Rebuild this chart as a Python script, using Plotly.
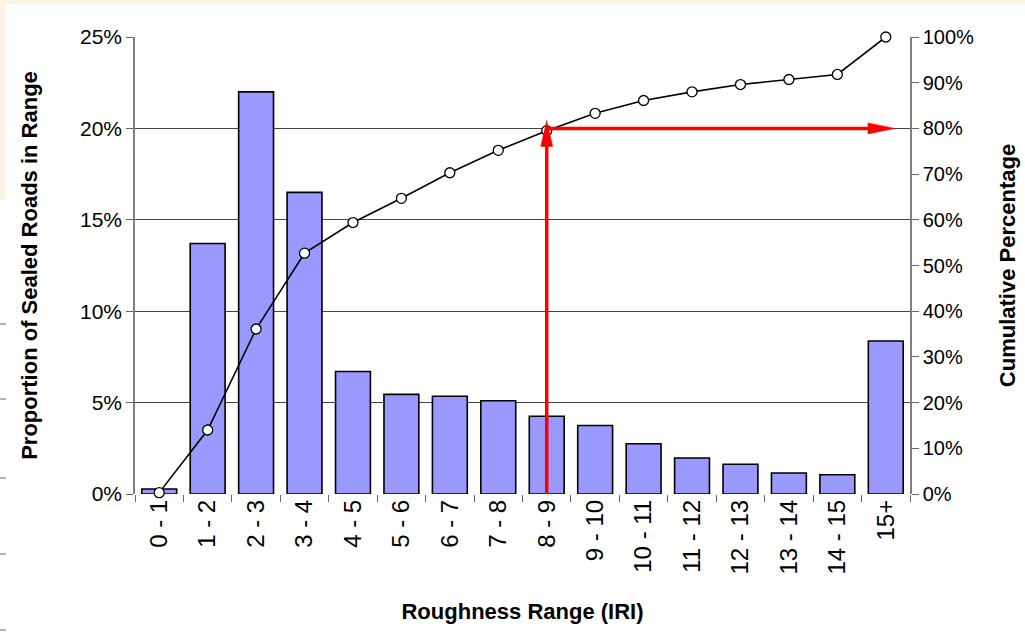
import plotly.graph_objects as go

categories = ["0 - 1", "1 - 2", "2 - 3", "3 - 4", "4 - 5", "5 - 6", "6 - 7", "7 - 8",
              "8 - 9", "9 - 10", "10 - 11", "11 - 12", "12 - 13", "13 - 14", "14 - 15", "15+"]
proportion = [0.27, 13.7, 22.0, 16.5, 6.7, 5.45, 5.35, 5.1, 4.25, 3.75, 2.75, 1.97, 1.63, 1.15, 1.05, 8.37]
cumulative = [0.3, 14.0, 36.1, 52.7, 59.4, 64.7, 70.3, 75.2, 79.5, 83.3, 86.1, 88.0, 89.6, 90.7, 91.8, 100.0]
left_ticks = [0, 5, 10, 15, 20, 25]
right_ticks = [0, 10, 20, 30, 40, 50, 60, 70, 80, 90, 100]
target_pct = 80
target_cat = "8 - 9"
arrow_end = 15.19  # category-index position where the horizontal arrow ends

font = "Liberation Sans, Arial, sans-serif"

fig = go.Figure()
fig.add_trace(go.Bar(
    x=categories, y=proportion, yaxis="y",
    marker=dict(color="#9999FF", line=dict(color="black", width=1.6)),
    showlegend=False,
))
fig.add_trace(go.Scatter(
    x=categories, y=cumulative, yaxis="y2", mode="lines+markers",
    line=dict(color="black", width=1.6),
    marker=dict(symbol="circle", size=10, color="white", line=dict(color="black", width=1.3)),
    cliponaxis=False, showlegend=False,
))

idx = categories.index(target_cat)
red = "#FF0000"
shapes = [
    dict(type="rect", xref="paper", yref="paper", x0=-0.3, x1=1.3, y0=(494 - 4) / 457, y1=1.2,
         fillcolor="#FCF4E4", line=dict(width=0), layer="below"),
    dict(type="rect", xref="paper", yref="paper", x0=-0.3, x1=(6 - 135) / 775, y0=(494 - 200) / 457, y1=1.2,
         fillcolor="#FCF4E4", line=dict(width=0), layer="below"),
    dict(type="line", xref="x", yref="y2", x0=idx, x1=idx, y0=-0.6, y1=target_pct - 3,
         line=dict(color=red, width=3.5)),
    dict(type="path", xref="x", yref="y2", xsizemode="pixel", ysizemode="pixel",
         xanchor=idx, yanchor=target_pct, path="M 0,8 L -6,-18 L 6,-18 Z",
         fillcolor=red, line=dict(color=red, width=0.5)),
    dict(type="line", xref="x", yref="y2", x0=idx - 0.03, x1=arrow_end - 0.4, y0=target_pct, y1=target_pct,
         line=dict(color=red, width=3.5)),
    dict(type="path", xref="x", yref="y2", xsizemode="pixel", ysizemode="pixel",
         xanchor=arrow_end, yanchor=target_pct, path="M 0,0 L -27,5.5 L -27,-5.5 Z",
         fillcolor=red, line=dict(color=red, width=0.5)),
]
for py in [324, 399, 478, 554, 630]:
    shapes.append(dict(type="line", xref="paper", yref="paper",
                       x0=(0 - 135) / 775, x1=(6 - 135) / 775,
                       y0=(494 - py) / 457, y1=(494 - py) / 457,
                       line=dict(color="#808080", width=1.2)))

fig.update_layout(
    width=1025, height=637,
    margin=dict(l=135, r=115, t=37, b=143),
    paper_bgcolor="white", plot_bgcolor="white",
    font=dict(family=font, size=20, color="black"),
    bargap=0.28,
    shapes=shapes,
    xaxis=dict(
        type="category", tickangle=-90, tickson="boundaries",
        ticks="outside", ticklen=7, tickcolor="#666", tickwidth=1.2,
        showline=False, showgrid=False,
        tickfont=dict(family=font, size=24, color="black"),
        title=dict(text="<b>Roughness Range (IRI)</b>", font=dict(size=22), standoff=30),
        range=[-0.5, len(categories) - 0.5],
        automargin=False,
    ),
    yaxis=dict(
        range=[0, 25], tickvals=left_ticks, ticktext=[f"{v}%" for v in left_ticks],
        ticks="outside", ticklen=7, tickcolor="#666", tickwidth=1.2,
        showline=True, linecolor="#808080", linewidth=1.5,
        showgrid=True, gridcolor="#444", gridwidth=1,
        zeroline=False, tickfont=dict(size=21),
        title=dict(text="<b>Proportion of Sealed Roads in Range</b>", font=dict(size=22), standoff=36),
        automargin=False,
    ),
    yaxis2=dict(
        overlaying="y", side="right", anchor="x",
        range=[0, 100], tickvals=right_ticks, ticktext=[f"{v}%" for v in right_ticks],
        ticks="outside", ticklen=7, tickcolor="#666", tickwidth=1.2,
        showline=True, linecolor="#808080", linewidth=1.5,
        showgrid=False, zeroline=False, tickfont=dict(size=20),
        title=dict(text="<b>Cumulative Percentage</b>", font=dict(size=22), standoff=26),
        automargin=False,
    ),
)

fig.write_html("out.html", config={"displayModeBar": False},
               post_script="document.body.style.margin='0px';")
